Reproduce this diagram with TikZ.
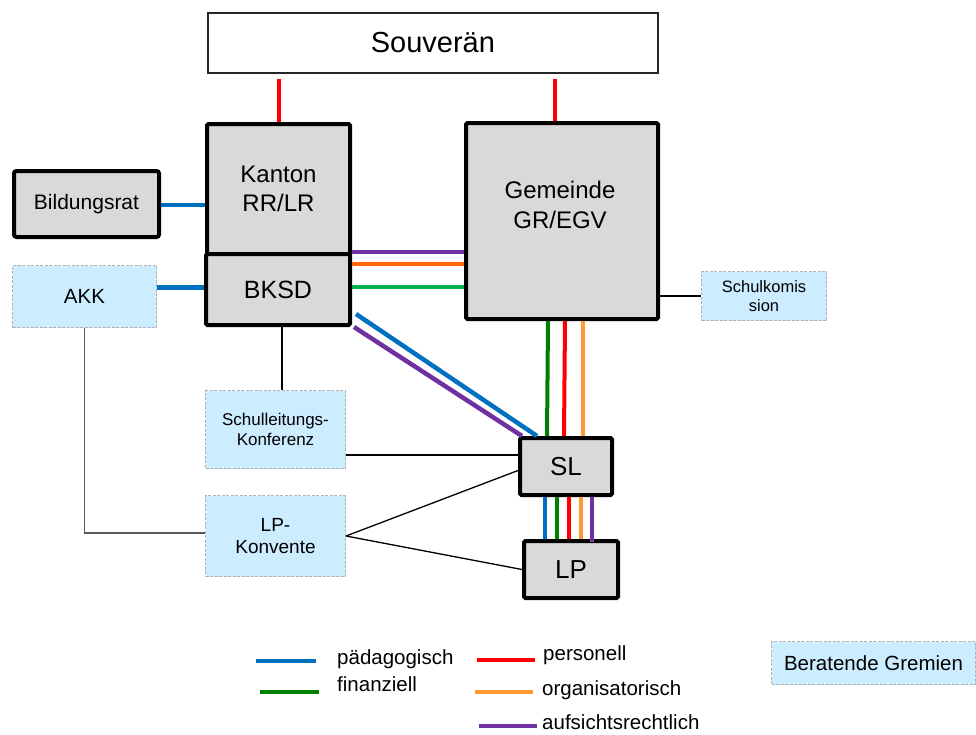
\documentclass[tikz,border=0pt]{standalone}
\usepackage{fontspec}
\setmainfont{Liberation Sans}
\usetikzlibrary{calc}
\definecolor{boxgray}{HTML}{D9D9D9}
\definecolor{lblue}{HTML}{CCECFF}
\definecolor{cblue}{HTML}{0070C0}
\definecolor{cgreen}{HTML}{008000}
\definecolor{cgreenl}{HTML}{00B050}
\definecolor{cred}{HTML}{FF0000}
\definecolor{corange}{HTML}{FF9933}
\definecolor{corangeb}{HTML}{FF6600}
\definecolor{cpurple}{HTML}{7030A0}
\begin{document}
\begin{tikzpicture}[x=1pt,y=-1pt,
  mainbox/.style={draw=black, line width=4pt, fill=boxgray, rounded corners=1.5pt, inner sep=0pt, anchor=north west, align=center},
  advbox/.style={draw=black!30, dash pattern=on 3pt off 1.5pt, line width=1pt, fill=lblue, inner sep=0pt, anchor=north west, align=center},
  link/.style={line width=4.5pt},
  thinlink/.style={line width=1.3pt, draw=black},
  legtext/.style={anchor=west, inner sep=0pt, font=\fontsize{20.5}{24}\selectfont}]
\useasboundingbox (0,0) rectangle (976,734);

% boxes
\node[draw=black!85, line width=1.8pt, fill=white, inner sep=0pt, anchor=north west,
      minimum width=450, minimum height=60, font=\fontsize{29}{34}\selectfont] (Sov) at (207,12) {Souverän};
\node[mainbox, minimum width=143, minimum height=130, font=\fontsize{24}{29}\selectfont] (K) at (205,122) {Kanton\\RR/LR};
\node[mainbox, minimum width=144, minimum height=71, font=\fontsize{25}{29}\selectfont] (BK) at (204,252) {BKSD};
\node[mainbox, minimum width=192, minimum height=196] (G) at (464,121) {};
\node[inner sep=0pt, align=center, font=\fontsize{24}{30}\selectfont] (Gt) at (560,205) {Gemeinde\\GR/EGV};
\node[mainbox, rounded corners=2.5pt, minimum width=145, minimum height=66, font=\fontsize{21}{24}\selectfont] (B) at (12,169) {Bildungsrat};
\node[advbox, minimum width=144, minimum height=62, font=\fontsize{20.5}{24}\selectfont] (AKK) at (12,265) {AKK};
\node[advbox, minimum width=125, minimum height=49, font=\fontsize{16.5}{18.5}\selectfont] (SK) at (701,271) {Schulkomis\\sion};
\node[advbox, minimum width=140, minimum height=78, font=\fontsize{17}{20.5}\selectfont] (SLK) at (205,390) {Schulleitungs-\\Konferenz};
\node[advbox, minimum width=140, minimum height=81, font=\fontsize{19}{22}\selectfont] (LPK) at (205,495) {LP-\\Konvente};
\node[mainbox, minimum width=92, minimum height=57, font=\fontsize{26}{30}\selectfont] (SL) at (518,436) {SL};
\node[mainbox, minimum width=94, minimum height=57, font=\fontsize{26}{30}\selectfont] (LP) at (522,539) {LP};
\node[advbox, minimum width=204, minimum height=43, font=\fontsize{20.5}{24}\selectfont] (BG) at (771,641) {Beratende Gremien};

% helper coordinates
\coordinate (xR) at (555,0);
\coordinate (yP) at (0,252);
\coordinate (yO) at (0,264);
\coordinate (yG) at (0,287);
\coordinate (xg) at (548,0);
\coordinate (xr) at (565,0);
\coordinate (xo) at (583,0);
\coordinate (x1) at (545,0);
\coordinate (x2) at (557,0);
\coordinate (x3) at (569,0);
\coordinate (x4) at (581,0);
\coordinate (x5) at (592,0);
\coordinate (xS) at (282,0);
\coordinate (yS) at (0,455);

% red links from Souveraen
\draw[link, cred, line width=4pt] ([yshift=-5pt]Sov.south -| K.north) -- (K.north);
\draw[link, cred, line width=4pt] ([yshift=-5pt]Sov.south -| xR) -- (G.north -| xR);

% blue links
\draw[link, cblue] (B.east |- 0,205) -- (K.west |- 0,205);
\draw[link, cblue] ([yshift=9pt]AKK.east) -- ([yshift=9pt]AKK.east -| BK.west);

% BKSD - Gemeinde
\draw[link, cpurple, line width=4pt] (BK.east |- yP) -- (G.west |- yP);
\draw[link, corangeb, line width=3.5pt] (BK.east |- yO) -- (G.west |- yO);
\draw[link, cgreenl, line width=4pt] (BK.east |- yG) -- (G.west |- yG);

% BKSD - SL diagonals
\draw[link, cblue] ([shift={(4pt,13pt)}]BK.south east) -- ([xshift=19pt]SL.north west);
\draw[link, cpurple] ([xshift=2pt]BK.south east) -- ([xshift=4pt]SL.north west);

% Gemeinde - SL
\draw[link, cgreen, line width=4pt] (G.south -| xg) -- ([xshift=-1pt]SL.north -| xg);
\draw[link, cred, line width=4pt] (G.south -| xr) -- ([xshift=-1pt]SL.north -| xr);
\draw[link, corange, line width=4pt] (G.south -| xo) -- (SL.north -| xo);

% SL - LP
\draw[link, cblue, line width=3.5pt] (SL.south -| x1) -- (LP.north -| x1);
\draw[link, cgreen, line width=3.5pt] (SL.south -| x2) -- (LP.north -| x2);
\draw[link, cred, line width=3.5pt] (SL.south -| x3) -- (LP.north -| x3);
\draw[link, corange, line width=3.5pt] (SL.south -| x4) -- (LP.north -| x4);
\draw[link, cpurple, line width=3.5pt] (SL.south -| x5) -- ([yshift=-3pt]LP.north -| x5);

% thin links
\draw[thinlink] (SK.west -| G.east) -- (SK.west);
\draw[thinlink] (BK.south -| xS) -- (SLK.north -| xS);
\draw[thinlink] (SLK.east |- yS) -- (SL.west |- yS);
\draw[thinlink] (LPK.east) -- ([yshift=-4pt]SL.west);
\draw[thinlink] (LPK.east) -- (LP.west);
\draw[thinlink, draw=black!65] (AKK.south) |- ([yshift=3pt]LPK.west);

% legend
\draw[link, cblue] (256,661) -- (316,661);
\draw[link, cgreen] (260,692) -- (319,692);
\draw[link, cred] (477,660) -- (535,660);
\draw[link, corange] (475,692) -- (533,692);
\draw[link, cpurple] (479,726) -- (537,726);
\node[legtext] (l1) at (337,659) {pädagogisch};
\node[legtext] (l2) at (337,684) {finanziell};
\node[legtext] (l3) at (543,655) {personell};
\node[legtext] (l4) at (542,690) {organisatorisch};
\node[legtext] (l5) at (542,722) {aufsichtsrechtlich};
\end{tikzpicture}
\end{document}
